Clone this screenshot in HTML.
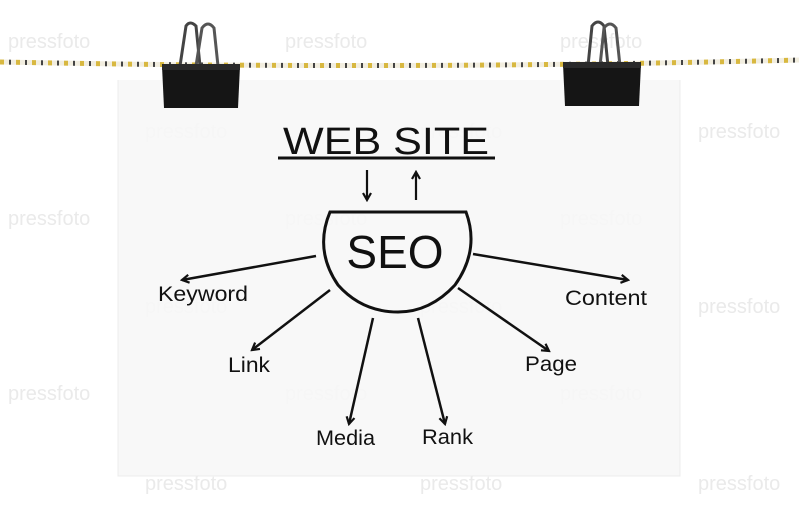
<!DOCTYPE html>
<html><head><meta charset="utf-8"><style>
html,body{margin:0;padding:0;background:#fff;}
svg{display:block}
.hand{font-family:"Liberation Sans",sans-serif;fill:#111;}
.wm{font-family:"Liberation Sans",sans-serif;font-size:20px;fill:#eaeaea;}
</style></head><body>
<svg width="799" height="531" viewBox="0 0 799 531" xmlns="http://www.w3.org/2000/svg">
<defs>
<marker id="ah" markerWidth="10" markerHeight="10" refX="8" refY="5" orient="auto" markerUnits="userSpaceOnUse">
<path d="M1,1 L8,5 L1,9" fill="none" stroke="#111" stroke-width="2.2"/>
</marker>
<pattern id="rope" width="16" height="5" patternUnits="userSpaceOnUse">
<rect width="16" height="5" fill="#f2eee0"/>
<rect x="0" width="4" height="5" fill="#d8b840"/>
<rect x="9" width="2" height="5" fill="#444"/>
</pattern>
</defs>
<rect width="799" height="531" fill="#fff"/>
<g class="wm">
<text x="8" y="48">pressfoto</text><text x="285" y="48">pressfoto</text><text x="560" y="48">pressfoto</text>
<text x="145" y="138">pressfoto</text><text x="420" y="138">pressfoto</text><text x="698" y="138">pressfoto</text>
<text x="8" y="225">pressfoto</text><text x="285" y="225">pressfoto</text><text x="560" y="225">pressfoto</text>
<text x="145" y="313">pressfoto</text><text x="420" y="313">pressfoto</text><text x="698" y="313">pressfoto</text>
<text x="8" y="400">pressfoto</text><text x="285" y="400">pressfoto</text><text x="560" y="400">pressfoto</text>
<text x="145" y="490">pressfoto</text><text x="420" y="490">pressfoto</text><text x="698" y="490">pressfoto</text>
</g>
<rect x="118" y="80" width="562" height="396" fill="#f7f7f7" opacity="0.88"/>
<path d="M118 80 L118 476 L680 476 L680 80" fill="none" stroke="#ececec" stroke-width="1"/>
<path d="M0 62 Q400 70 799 60" stroke="url(#rope)" stroke-width="5" fill="none"/>
<g>
<path d="M180 66 L186 26 Q190 20 196 26 L200 66" fill="none" stroke="#444" stroke-width="3"/>
<path d="M196 66 L202 28 Q208 20 214 28 L218 66" fill="none" stroke="#555" stroke-width="3"/>
<path d="M162 66 L240 66 L238 108 L164 108 Z" fill="#151515"/>
<rect x="162" y="64" width="78" height="6" fill="#2a2a2a"/>
</g>
<g>
<path d="M588 66 L592 26 Q598 18 604 26 L608 66" fill="none" stroke="#444" stroke-width="3"/>
<path d="M600 66 L604 28 Q610 20 616 28 L620 66" fill="none" stroke="#555" stroke-width="3"/>
<path d="M563 64 L641 64 L639 106 L565 106 Z" fill="#151515"/>
<rect x="563" y="62" width="78" height="6" fill="#2a2a2a"/>
</g>
<text class="hand" x="386" y="154" font-size="38" text-anchor="middle" textLength="206" lengthAdjust="spacingAndGlyphs">WEB SITE</text>
<line x1="278" y1="158" x2="495" y2="158" stroke="#111" stroke-width="3"/>
<line x1="367" y1="170" x2="367" y2="200" stroke="#111" stroke-width="2.2" marker-end="url(#ah)"/>
<line x1="416" y1="200" x2="416" y2="172" stroke="#111" stroke-width="2.2" marker-end="url(#ah)"/>
<path d="M330 212 L466 212 Q480 250 455 285 Q430 312 398 312 Q362 312 338 285 Q314 250 330 212 Z" fill="none" stroke="#111" stroke-width="3"/>
<text class="hand" x="395" y="268" font-size="46" text-anchor="middle">SEO</text>
<g stroke="#111" stroke-width="2.5" fill="none" marker-end="url(#ah)">
<line x1="316" y1="256" x2="182" y2="280"/>
<line x1="330" y1="290" x2="252" y2="350"/>
<line x1="373" y1="318" x2="349" y2="424"/>
<line x1="418" y1="318" x2="445" y2="424"/>
<line x1="458" y1="288" x2="549" y2="351"/>
<line x1="473" y1="254" x2="628" y2="280"/>
</g>
<g class="hand" font-size="21">
<text x="158" y="301" textLength="90" lengthAdjust="spacingAndGlyphs">Keyword</text>
<text x="228" y="372" textLength="42" lengthAdjust="spacingAndGlyphs">Link</text>
<text x="316" y="445" textLength="59" lengthAdjust="spacingAndGlyphs">Media</text>
<text x="422" y="444" textLength="51" lengthAdjust="spacingAndGlyphs">Rank</text>
<text x="525" y="371" textLength="52" lengthAdjust="spacingAndGlyphs">Page</text>
<text x="565" y="305" textLength="82" lengthAdjust="spacingAndGlyphs">Content</text>
</g>
</svg>
</body></html>
